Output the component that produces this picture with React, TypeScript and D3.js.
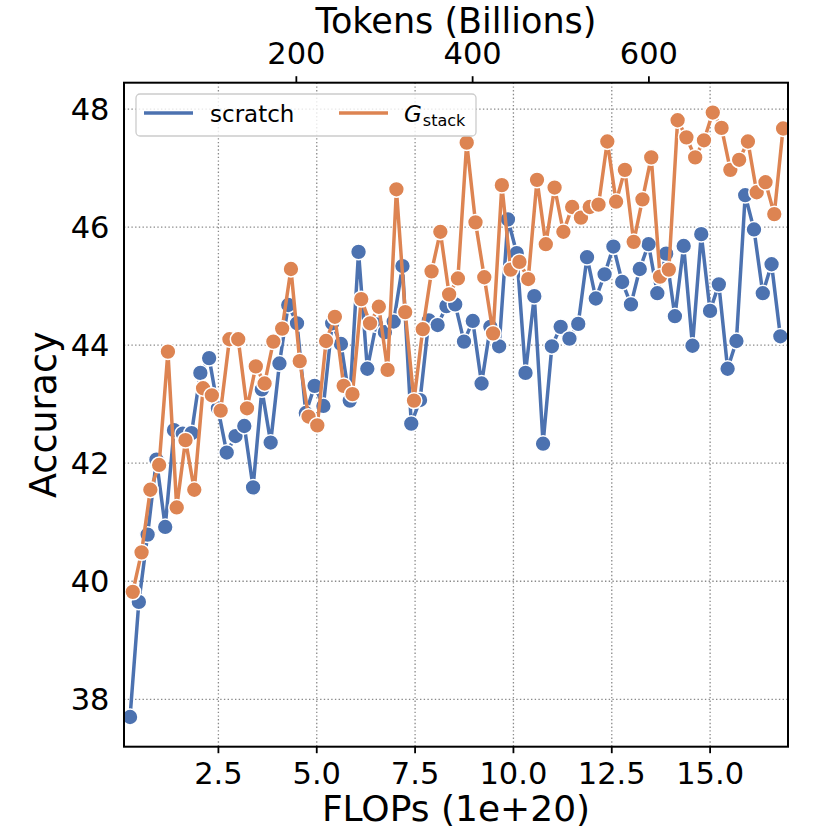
import React, { useEffect, useRef } from "react";
import * as d3 from "d3";

// ---- data ----
const seriesNames = ["scratch", "G_stack"];
const colors = ["#4C72B0", "#DD8452"];
const stepFlops = 0.2234;
const scratchStart = 0.254;
const gstackStart = 0.323;
const scratchAcc = [
  37.7, 39.65, 40.79, 42.06, 40.92, 42.56, 42.5, 42.51, 43.53, 43.78,
  42.93, 42.18, 42.46, 42.63, 41.59, 43.25, 42.35, 43.69, 44.68, 44.37,
  42.85, 43.31, 42.97, 44.37, 44.02, 43.06, 45.58, 43.6, 44.35, 44.22,
  44.4, 45.34, 42.67, 43.07, 44.42, 44.34, 44.66, 44.69, 44.06, 44.41,
  43.35, 44.31, 43.98, 46.13, 45.56, 43.53, 44.83, 42.33, 43.98, 44.31,
  44.11, 44.36, 45.49, 44.79, 45.2, 45.67, 45.07, 44.69, 45.29, 45.71,
  44.88, 45.55, 44.49, 45.68, 43.99, 45.88, 44.58, 45.03, 43.6, 44.07,
  46.54, 45.96, 44.88, 45.37, 44.15,
];
const gstackAcc = [
  39.82, 40.49, 41.55, 41.97, 43.89, 41.25, 42.39, 41.55, 43.27, 43.15,
  42.89, 44.1, 44.1, 42.93, 43.64, 43.35, 44.06, 44.28, 45.29, 43.73,
  42.79, 42.64, 44.07, 44.48, 43.31, 43.17, 44.78, 44.37, 44.65, 43.58,
  46.64, 44.56, 43.06, 44.27, 45.25, 45.92, 44.86, 45.13, 47.43, 46.08,
  45.15, 44.2, 46.71, 45.28, 45.41, 45.12, 46.8, 45.71, 46.67, 45.92,
  46.34, 46.16, 46.34, 46.38, 47.45, 46.43, 46.97, 45.75, 46.47, 47.18,
  45.16, 45.28, 47.81, 47.52, 47.18, 47.47, 47.94, 47.68, 46.97, 47.14,
  47.45, 46.59, 46.76, 46.22, 47.67,
];
const xTicks = [2.5, 5.0, 7.5, 10.0, 12.5, 15.0];
const yTicks = [38, 40, 42, 44, 46, 48];
const tokenTicks = [200, 400, 600];
const tokensPerFlop = 44.63;
const xDomain = [0.1, 16.98];
const yDomain = [37.197, 48.446];

export default function App() {
  const ref = useRef<SVGSVGElement>(null);

  useEffect(() => {
    const svg = d3.select(ref.current);
    svg.selectAll("*").remove();
    const L = 124, R = 788, T = 82.7, B = 746.7;
    const font = "DejaVu Sans, sans-serif";
    const x = d3.scaleLinear().domain(xDomain).range([L, R]);
    const xTop = d3
      .scaleLinear()
      .domain([xDomain[0] * tokensPerFlop, xDomain[1] * tokensPerFlop])
      .range([L, R]);
    const y = d3.scaleLinear().domain(yDomain).range([B, T]);

    svg.append("rect").attr("width", 830).attr("height", 830).attr("fill", "white");

    // grid
    const grid = svg.append("g");
    xTicks.forEach((t) =>
      grid.append("line").attr("x1", x(t)).attr("x2", x(t)).attr("y1", T).attr("y2", B)
        .attr("stroke", "#8a8a8a").attr("stroke-width", 1.3).attr("stroke-dasharray", "1.4,2.3")
    );
    yTicks.forEach((t) =>
      grid.append("line").attr("x1", L).attr("x2", R).attr("y1", y(t)).attr("y2", y(t))
        .attr("stroke", "#8a8a8a").attr("stroke-width", 1.3).attr("stroke-dasharray", "1.4,2.3")
    );

    // data
    const clip = svg.append("defs").append("clipPath").attr("id", "clip");
    clip.append("rect").attr("x", L).attr("y", T).attr("width", R - L).attr("height", B - T);
    const dataG = svg.append("g").attr("clip-path", "url(#clip)");
    const all = [
      { vals: scratchAcc, start: scratchStart, color: colors[0] },
      { vals: gstackAcc, start: gstackStart, color: colors[1] },
    ];
    all.forEach((s) => {
      const pts = s.vals.map((v, i) => [s.start + i * stepFlops, v] as [number, number]);
      const line = d3.line<[number, number]>().x((d) => x(d[0])).y((d) => y(d[1]));
      dataG.append("path").attr("d", line(pts)).attr("fill", "none")
        .attr("stroke", s.color).attr("stroke-width", 3.5).attr("stroke-linejoin", "round");
      dataG.selectAll(null).data(pts).enter().append("circle")
        .attr("cx", (d) => x(d[0])).attr("cy", (d) => y(d[1])).attr("r", 7.9)
        .attr("fill", s.color).attr("stroke", "white").attr("stroke-width", 1.5);
    });

    // spines
    svg.append("rect").attr("x", L).attr("y", T).attr("width", R - L).attr("height", B - T)
      .attr("fill", "none").attr("stroke", "black").attr("stroke-width", 2);

    // bottom ticks
    xTicks.forEach((t) => {
      svg.append("line").attr("x1", x(t)).attr("x2", x(t)).attr("y1", B).attr("y2", B + 6.5)
        .attr("stroke", "black").attr("stroke-width", 1.8);
      svg.append("text").attr("x", x(t)).attr("y", 784).attr("text-anchor", "middle")
        .attr("font-family", font).attr("font-size", 30.5).text(t.toFixed(1));
    });
    // top ticks
    tokenTicks.forEach((t) => {
      svg.append("line").attr("x1", xTop(t)).attr("x2", xTop(t)).attr("y1", T).attr("y2", T - 6.5)
        .attr("stroke", "black").attr("stroke-width", 1.8);
      svg.append("text").attr("x", xTop(t)).attr("y", 64).attr("text-anchor", "middle")
        .attr("font-family", font).attr("font-size", 30.5).text(String(t));
    });
    // left ticks
    yTicks.forEach((t) => {
      svg.append("text").attr("x", 109.5).attr("y", y(t)).attr("dy", "0.36em")
        .attr("text-anchor", "end").attr("font-family", font).attr("font-size", 30.5).text(String(t));
    });

    // axis labels
    svg.append("text").attr("x", (L + R) / 2).attr("y", 821).attr("text-anchor", "middle")
      .attr("font-family", font).attr("font-size", 36).text("FLOPs (1e+20)");
    svg.append("text").attr("x", (L + R) / 2).attr("y", 33).attr("text-anchor", "middle")
      .attr("font-family", font).attr("font-size", 35).text("Tokens (Billions)");
    svg.append("text").attr("transform", `translate(56,${(T + B) / 2}) rotate(-90)`)
      .attr("text-anchor", "middle").attr("font-family", font).attr("font-size", 36.5).text("Accuracy");

    // legend
    const lg = svg.append("g");
    lg.append("rect").attr("x", 136).attr("y", 94).attr("width", 340).attr("height", 42)
      .attr("rx", 4).attr("fill", "white").attr("fill-opacity", 0.8)
      .attr("stroke", "#cccccc").attr("stroke-width", 1.3);
    lg.append("line").attr("x1", 144).attr("x2", 193).attr("y1", 113).attr("y2", 113)
      .attr("stroke", colors[0]).attr("stroke-width", 3.5);
    lg.append("text").attr("x", 210).attr("y", 121.5).attr("font-family", font)
      .attr("font-size", 23).text(seriesNames[0]);
    lg.append("line").attr("x1", 339).attr("x2", 388).attr("y1", 113).attr("y2", 113)
      .attr("stroke", colors[1]).attr("stroke-width", 3.5);
    const gt = lg.append("text").attr("x", 404).attr("y", 121.5).attr("font-family", font).attr("font-size", 23);
    gt.append("tspan").attr("font-style", "italic").text("G");
    gt.append("tspan").attr("font-size", 16).attr("dy", 4.5).attr("dx", 1).text("stack");
  }, []);

  return (
    <svg
      ref={ref}
      width={830}
      height={830}
      style={{ position: "absolute", left: 0, top: 0 }}
    />
  );
}
